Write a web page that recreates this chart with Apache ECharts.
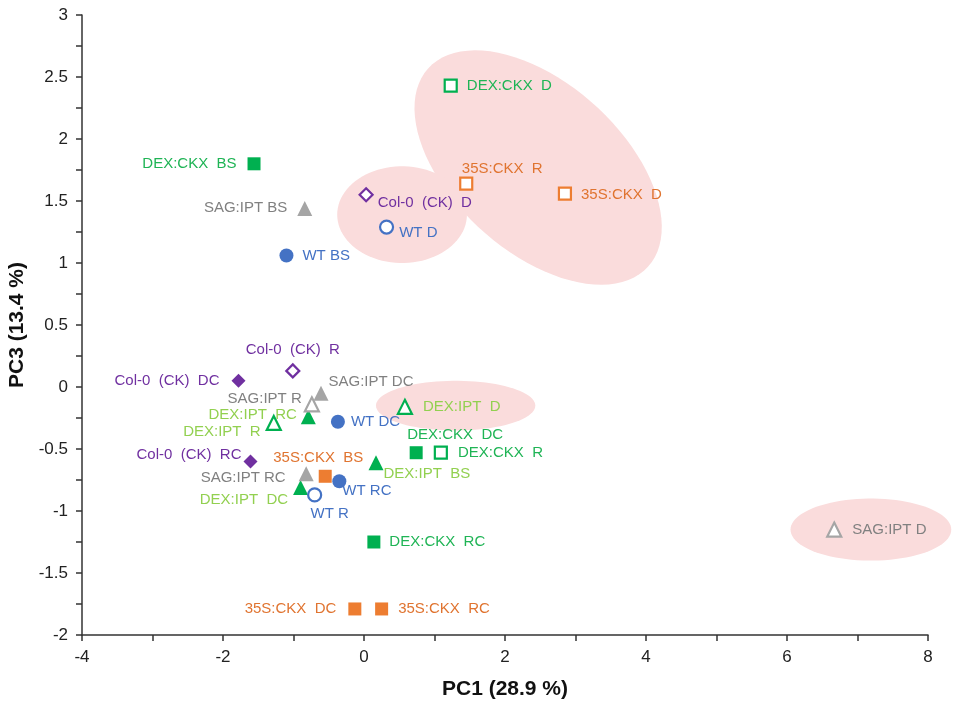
<!DOCTYPE html>
<html lang="en" style="height: 100%">
<head>
  <meta charset="utf-8">
</head>
<body style="height: 100%; margin: 0; background: #fff">
  <div id="container" style="width: 957px; height: 707px"></div>

  <script type="text/javascript" src="https://cdn.jsdelivr.net/npm/echarts@6/dist/echarts.min.js"></script>

  <script type="text/javascript">
// ---- data ----
const pointNames = [
  'DEX:CKX  D', '35S:CKX  R', '35S:CKX  D', 'DEX:CKX  BS', 'SAG:IPT BS',
  'Col-0  (CK)  D', 'WT D', 'WT BS', 'Col-0  (CK)  R', 'Col-0  (CK)  DC',
  'SAG:IPT DC', 'SAG:IPT R', 'DEX:IPT  RC', 'DEX:IPT  R', 'WT DC',
  'DEX:IPT  D', 'DEX:CKX  DC', 'DEX:CKX  R', 'DEX:IPT  BS', 'Col-0  (CK)  RC',
  '35S:CKX  BS', 'SAG:IPT RC', 'WT RC', 'DEX:IPT  DC', 'WT R',
  'DEX:CKX  RC', '35S:CKX  DC', '35S:CKX  RC', 'SAG:IPT D'
];
const pc1 = [
  1.23, 1.45, 2.85, -1.56, -0.84,
  0.03, 0.32, -1.10, -1.01, -1.78,
  -0.61, -0.74, -0.79, -1.28, -0.37,
  0.58, 0.74, 1.09, 0.17, -1.61,
  -0.55, -0.82, -0.35, -0.90, -0.70,
  0.14, -0.13, 0.25, 6.67
];
const pc3 = [
  2.43, 1.64, 1.56, 1.80, 1.44,
  1.55, 1.29, 1.06, 0.13, 0.05,
  -0.05, -0.14, -0.24, -0.29, -0.28,
  -0.16, -0.53, -0.53, -0.61, -0.60,
  -0.72, -0.70, -0.76, -0.81, -0.87,
  -1.25, -1.79, -1.79, -1.15
];
const genotype = [
  'DEX:CKX', '35S:CKX', '35S:CKX', 'DEX:CKX', 'SAG:IPT',
  'Col-0', 'WT', 'WT', 'Col-0', 'Col-0',
  'SAG:IPT', 'SAG:IPT', 'DEX:IPT', 'DEX:IPT', 'WT',
  'DEX:IPT', 'DEX:CKX', 'DEX:CKX', 'DEX:IPT', 'Col-0',
  '35S:CKX', 'SAG:IPT', 'WT', 'DEX:IPT', 'WT',
  'DEX:CKX', '35S:CKX', '35S:CKX', 'SAG:IPT'
];
// 1 = open marker
const hollow = [
  1, 1, 1, 0, 0,
  1, 1, 0, 1, 0,
  0, 1, 0, 1, 0,
  1, 0, 1, 0, 0,
  0, 0, 0, 0, 1,
  0, 0, 0, 1
];

// shaded ellipses: centre, half-axes (axis units), tilt in degrees
const ellipseCx = [2.47, 0.54, 1.30, 7.19];
const ellipseCy = [1.77, 1.39, -0.15, -1.15];
const ellipseRx = [2.10, 0.92, 1.13, 1.14];
const ellipseRy = [0.68, 0.39, 0.20, 0.25];
const ellipseTilt = [42, 0, 0, 0];

// ---- styling ----
const groupStyle = {
  'DEX:CKX': { symbol: 'rect', size: 13, color: '#00b050', text: '#1fb455' },
  'DEX:IPT': { symbol: 'triangle', size: 15, color: '#00b050', text: '#92d050' },
  '35S:CKX': { symbol: 'rect', size: 13, color: '#ed7d31', text: '#e07430' },
  'SAG:IPT': { symbol: 'triangle', size: 15, color: '#a5a5a5', text: '#808080' },
  'Col-0': { symbol: 'diamond', size: 14, color: '#7030a0', text: '#7030a0' },
  'WT': { symbol: 'circle', size: 14, color: '#4472c4', text: '#4472c4' }
};

// label placement: [position, dx, dy]
const labelPlace = {
  'DEX:CKX  D': ['right', 4, 0],
  '35S:CKX  R': ['top', 36, 5],
  '35S:CKX  D': ['right', 4, 1],
  'DEX:CKX  BS': ['left', -6, 0],
  'SAG:IPT BS': ['left', -5, -1],
  'Col-0  (CK)  D': ['right', -1, 8],
  'WT D': ['right', 0, 6],
  'WT BS': ['right', 4, 0],
  'Col-0  (CK)  R': ['top', 0, -1],
  'Col-0  (CK)  DC': ['left', -7, 0],
  'SAG:IPT DC': ['right', -5, -11],
  'SAG:IPT R': ['left', 3, -6],
  'DEX:IPT  RC': ['left', 1, -2],
  'DEX:IPT  R': ['left', 0, 9],
  'WT DC': ['right', 1, 0],
  'DEX:IPT  D': ['right', 5, 0],
  'DEX:CKX  DC': ['top', 39, 1],
  'DEX:CKX  R': ['right', 5, 0],
  'DEX:IPT  BS': ['right', -5, 11],
  'Col-0  (CK)  RC': ['left', 3, -7],
  '35S:CKX  BS': ['top', -7, 1],
  'SAG:IPT RC': ['left', -8, 4],
  'WT RC': ['right', -9, 10],
  'DEX:IPT  DC': ['left', 0, 12],
  'WT R': ['bottom', 15, -1],
  'DEX:CKX  RC': ['right', 4, 0],
  '35S:CKX  DC': ['left', -7, 0],
  '35S:CKX  RC': ['right', 5, 0],
  'SAG:IPT D': ['right', 5, 0]
};

var dom = document.getElementById('container');
var myChart = echarts.init(dom, null, { renderer: 'canvas' });

const ellipseData = ellipseCx.map((cx, i) =>
  [cx, ellipseCy[i], ellipseRx[i], ellipseRy[i], ellipseTilt[i]]);

function renderEllipse(params, api) {
  const c = api.coord([api.value(0), api.value(1)]);
  const rx = api.size([api.value(2), 0])[0];
  const ry = api.size([0, api.value(3)])[1];
  const t = api.value(4) * Math.PI / 180;
  const pts = [];
  for (let k = 0; k < 90; k++) {
    const a = k / 90 * Math.PI * 2;
    const ex = rx * Math.cos(a), ey = ry * Math.sin(a);
    pts.push([c[0] + ex * Math.cos(t) - ey * Math.sin(t),
              c[1] + ex * Math.sin(t) + ey * Math.cos(t)]);
  }
  return { type: 'polygon', shape: { points: pts }, style: { fill: '#fadcdc' } };
}

const groups = Object.keys(groupStyle);
const pointSeries = groups.map(g => {
  const st = groupStyle[g];
  const data = [];
  pointNames.forEach((name, i) => {
    if (genotype[i] !== g) return;
    const open = hollow[i] === 1;
    const lp = labelPlace[name];
    data.push({
      name: name,
      value: [pc1[i], pc3[i]],
      symbolSize: open ? st.size - 1 : st.size,
      itemStyle: open
        ? { color: '#fff', borderColor: st.color, borderWidth: 2.2, opacity: 1 }
        : { color: st.color, borderWidth: 0, opacity: 1 },
      label: {
        show: true,
        position: lp[0],
        offset: [lp[1], lp[2]],
        formatter: name,
        color: st.text
      }
    });
  });
  return {
    name: g,
    type: 'scatter',
    symbol: st.symbol,
    z: 3,
    label: { fontFamily: 'Arial, Liberation Sans', fontSize: 15 },
    emphasis: { disabled: true },
    data: data
  };
});

const axisFont = { fontFamily: 'Arial, Liberation Sans', fontSize: 17, color: '#222' };
const axisLineStyle = { color: '#333', width: 1.5 };

var option = {
  animation: false,
  grid: { left: 82, right: 29, top: 15, bottom: 72, containLabel: false, outerBoundsMode: 'none' },
  xAxis: {
    type: 'value',
    min: -4, max: 8, interval: 2,
    name: 'PC1 (28.9 %)',
    nameLocation: 'middle',
    nameGap: 44,
    nameTextStyle: { fontFamily: 'Arial, Liberation Sans', fontSize: 21, fontWeight: 'bold', color: '#111' },
    axisLine: { show: true, onZero: false, lineStyle: axisLineStyle },
    axisTick: { show: true, length: 6, lineStyle: axisLineStyle },
    minorTick: { show: true, splitNumber: 2, length: 6, lineStyle: axisLineStyle },
    splitLine: { show: false },
    axisLabel: Object.assign({ margin: 14 }, axisFont)
  },
  yAxis: {
    type: 'value',
    min: -2, max: 3, interval: 0.5,
    name: 'PC3 (13.4 %)',
    nameLocation: 'middle',
    nameGap: 51,
    nameTextStyle: { fontFamily: 'Arial, Liberation Sans', fontSize: 21, fontWeight: 'bold', color: '#111' },
    axisLine: { show: true, onZero: false, lineStyle: axisLineStyle },
    axisTick: { show: true, length: 6, lineStyle: axisLineStyle },
    minorTick: { show: true, splitNumber: 2, length: 6, lineStyle: axisLineStyle },
    splitLine: { show: false },
    axisLabel: Object.assign({ margin: 14 }, axisFont)
  },
  series: [
    {
      type: 'custom',
      name: 'groups',
      renderItem: renderEllipse,
      clip: false,
      z: 1,
      silent: true,
      data: ellipseData
    }
  ].concat(pointSeries)
};

myChart.setOption(option);
window.addEventListener('resize', myChart.resize);
  </script>
</body>
</html>
